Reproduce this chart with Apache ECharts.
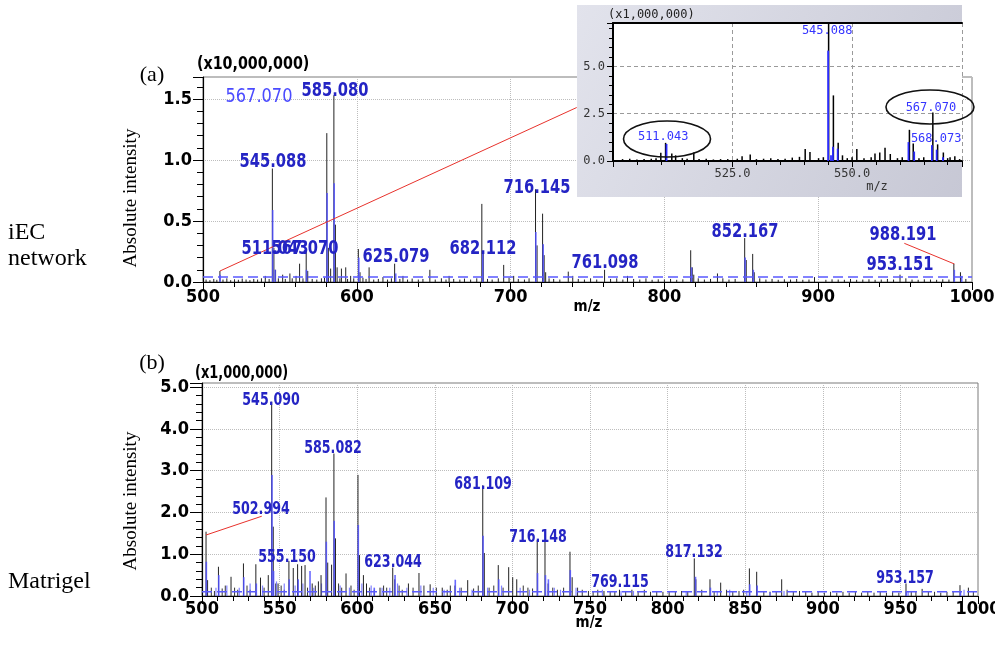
<!DOCTYPE html>
<html><head><meta charset="utf-8">
<script src="https://cdn.jsdelivr.net/npm/echarts@6/dist/echarts.min.js"></script>
<style>html,body{margin:0;padding:0;background:#fff}#c{width:995px;height:650px}</style>
</head><body><div id="c"></div>
<script>
// ================= DATA =================
// Panel (a) iEC network, intensity in x10,000,000
const aBlack = [[511.0,0.09],[540.5,0.05],[545.1,0.93],[546.1,0.28],[547.2,0.10],[551.8,0.06],[556.5,0.07],[560.5,0.05],[562.8,0.15],[567.1,0.26],[568.1,0.09],[580.5,1.22],[581.5,0.28],[583.0,0.11],[585.1,1.53],[586.1,0.47],[587.2,0.12],[590.0,0.11],[592.8,0.12],[596.0,0.05],[601.0,0.27],[602.1,0.08],[608.0,0.12],[617.0,0.04],[624.6,0.15],[630.0,0.05],[647.5,0.10],[660.0,0.05],[681.3,0.64],[682.2,0.24],[695.5,0.14],[702.0,0.05],[716.2,0.76],[717.2,0.30],[720.8,0.56],[721.8,0.22],[722.8,0.08],[737.5,0.085],[740.4,0.05],[761.1,0.10],[776.0,0.05],[817.1,0.26],[818.1,0.12],[819.1,0.06],[834.5,0.07],[852.2,0.36],[853.2,0.18],[857.4,0.23],[858.4,0.08],[897.6,0.04],[953.2,0.06],[988.2,0.15],[992.5,0.08]];
const aBlue = [[511.1,0.06],[545.3,0.59],[546.9,0.10],[567.3,0.10],[580.7,0.73],[585.3,0.81],[601.3,0.20],[625.3,0.07],[681.9,0.24],[716.4,0.41],[721.2,0.31],[817.6,0.12],[852.5,0.20],[857.8,0.10],[988.5,0.10],[993.3,0.05]];
const aNoise = [[502,0.02],[504.5,0.015],[507,0.025],[509,0.018],[513,0.02],[515.5,0.03],[518,0.015],[520.5,0.022],[523,0.018],[525.5,0.028],[528,0.02],[530.5,0.015],[533,0.025],[535.5,0.02],[538,0.03],[543,0.025],[549,0.03],[553.5,0.025],[558,0.03],[565,0.03],[571,0.025],[574,0.02],[577,0.03],[579,0.035],[589,0.03],[594,0.025],[598,0.03],[604,0.035],[606,0.025],[611,0.02],[614,0.025],[620,0.02],[622.5,0.03],[628,0.025],[633,0.02],[636,0.028],[640,0.02],[643,0.025],[651,0.02],[655,0.03],[658,0.02],[663,0.025],[667,0.02],[670,0.028],[674,0.02],[678,0.03],[685,0.025],[688,0.02],[692,0.03],[699,0.035],[705,0.025],[709,0.02],[712,0.03],[725,0.03],[728,0.025],[732,0.02],[744,0.025],[748,0.02],[752,0.03],[756,0.02],[765,0.025],[769,0.03],[773,0.02],[780,0.025],[784,0.02],[788,0.03],[792,0.018],[796,0.022],[800,0.02],[804,0.025],[808,0.018],[812,0.022],[822,0.03],[826,0.02],[830,0.025],[838,0.03],[842,0.02],[846,0.025],[862,0.03],[866,0.02],[870,0.025],[874,0.018],[878,0.022],[882,0.02],[886,0.025],[890,0.018],[894,0.02],[905,0.018],[909,0.022],[913,0.02],[917,0.018],[921,0.025],[925,0.018],[929,0.02],[933,0.022],[937,0.018],[941,0.02],[945,0.025],[949,0.02],[957,0.03],[961,0.02],[965,0.018],[969,0.022],[973,0.02],[977,0.018],[981,0.022],[985,0.02],[996,0.025]];
const aThreshold = 0.04;
const aLabelText = ['567.070','585.080','545.088','511.043','567.070','625.079','682.112','716.145','761.098','852.167','988.191','953.151'];
const aLeader1 = [[511.0,0.09],[743,1.43]];
const aLeader2 = [[956,0.317],[988.5,0.148]];

// Panel (b) Matrigel, intensity in x1,000,000
const bBlack = [[502.6,1.54],[503.6,0.38],[510.6,0.70],[518.7,0.46],[526.7,0.78],[534.7,0.76],[537.7,0.44],[542.7,0.50],[544.9,4.65],[545.9,1.66],[549.0,0.30],[556.0,0.84],[558.8,0.67],[561.6,0.76],[564.2,0.72],[566.4,0.74],[571.0,0.30],[575.0,0.35],[576.7,0.50],[579.9,2.36],[581.0,0.80],[583.5,0.75],[585.0,3.41],[586.0,1.38],[592.8,0.54],[600.5,2.90],[601.5,0.98],[604.0,0.50],[606.0,0.30],[614.7,0.20],[622.9,0.68],[624.2,0.40],[633.0,0.30],[639.8,0.55],[647.0,0.28],[654.8,0.20],[663.0,0.25],[671.2,0.38],[680.9,2.65],[681.9,1.03],[690.9,0.74],[697.6,0.69],[700.2,0.45],[702.8,0.40],[716.0,1.34],[721.0,1.33],[723.0,0.30],[737.1,1.06],[738.5,0.45],[759.0,0.12],[769.0,0.15],[777.0,0.15],[817.2,0.90],[818.2,0.40],[827.3,0.40],[834.2,0.32],[852.7,0.66],[857.4,0.58],[873.5,0.40],[953.6,0.30],[964.0,0.17],[988.4,0.26],[993.8,0.20]];
const bBlue = [[502.8,0.82],[510.8,0.50],[526.9,0.45],[535.0,0.30],[545.1,2.90],[546.1,0.60],[556.2,0.40],[562.0,0.40],[569.6,0.60],[580.1,1.30],[585.2,1.80],[600.7,1.70],[611.0,0.20],[624.4,0.50],[663.2,0.39],[681.1,1.44],[691.2,0.40],[716.2,0.55],[721.3,0.50],[723.2,0.40],[737.3,0.62],[818.0,0.46],[827.6,0.20],[852.9,0.28],[857.7,0.25],[953.8,0.12],[988.7,0.12]];
const bNoise = [[506,0.2],[508,0.12],[513,0.18],[515,0.25],[521,0.2],[523,0.15],[529,0.25],[531,0.15],[540,0.2],[547.5,0.3],[551,0.25],[553,0.15],[568,0.2],[573,0.25],[588,0.3],[590,0.2],[596,0.25],[598,0.15],[608,0.2],[611,0.15],[617,0.25],[619,0.2],[627,0.25],[629,0.15],[636,0.2],[643,0.25],[651,0.2],[658,0.15],[660,0.25],[667,0.2],[675,0.18],[678,0.25],[685,0.2],[688,0.25],[694,0.2],[707,0.25],[710,0.2],[713,0.18],[726,0.2],[729,0.15],[733,0.2],[742,0.2],[745,0.15],[749,0.12],[752,0.1],[755,0.15],[763,0.12],[766,0.1],[773,0.12],[781,0.1],[785,0.15],[789,0.1],[793,0.12],[797,0.1],[801,0.12],[805,0.1],[809,0.12],[813,0.1],[822,0.15],[830,0.12],[838,0.15],[842,0.1],[846,0.12],[849,0.15],[862,0.12],[866,0.1],[870,0.12],[877,0.15],[881,0.1],[885,0.12],[889,0.1],[893,0.08],[897,0.1],[901,0.08],[905,0.1],[909,0.08],[913,0.1],[917,0.08],[921,0.1],[925,0.08],[929,0.1],[933,0.08],[937,0.1],[941,0.08],[945,0.1],[949,0.08],[957,0.12],[960,0.1],[968,0.12],[972,0.1],[976,0.08],[980,0.1],[984,0.12],[997,0.1]];
const bBlueNoise = [[509,0.2],[516,0.25],[524,0.2],[531,0.3],[539,0.25],[548,0.35],[553,0.3],[560,0.25],[565,0.3],[572,0.2],[577,0.3],[589,0.25],[595,0.2],[603,0.3],[609,0.25],[616,0.2],[621,0.2],[626,0.3],[632,0.2],[641,0.25],[649,0.2],[656,0.15],[666,0.2],[674,0.15],[684,0.2],[693,0.25],[705,0.2],[711,0.15],[727,0.2],[731,0.15],[741,0.2],[758,0.15],[770,0.12],[778,0.12],[812,0.1],[832,0.12],[840,0.15],[851,0.12],[866,0.1],[875,0.12],[955,0.1],[991,0.15]];
const bThreshold = 0.1;
const bLabelText = ['545.090','585.082','502.994','555.150','623.044','681.109','716.148','769.115','817.132','953.157'];
const bLeader = [[502.6,1.46],[538.5,1.91]];

// Inset (zoom of panel a), intensity in x1,000,000
const iBlack = [[510.0,0.44],[511.0,0.96],[512.3,0.40],[513.1,0.30],[516.9,0.45],[527.0,0.25],[528.7,0.35],[540.2,0.63],[541.2,0.48],[545.1,7.3],[546.1,3.47],[547.1,0.97],[548.0,0.30],[551.0,0.63],[554.8,0.40],[555.8,0.45],[556.9,0.70],[558.0,0.37],[562.0,1.65],[562.8,0.93],[566.9,2.56],[567.9,0.88],[569.1,0.45],[570.5,0.20]];
const iBlue = [[511.2,0.90],[545.0,5.84],[545.6,0.30],[546.0,0.75],[547.0,0.65],[561.8,1.00],[563.0,0.50],[566.7,0.84],[567.7,0.60],[569.0,0.20]];
const iNoise = [[502,0.1],[503.5,0.12],[505,0.08],[506.5,0.1],[508,0.12],[509,0.15],[514.5,0.15],[515.5,0.12],[518,0.1],[519.5,0.12],[521,0.08],[522.5,0.1],[524,0.1],[526,0.12],[530,0.1],[531.5,0.12],[533,0.15],[534.5,0.1],[536,0.12],[537.5,0.18],[539,0.22],[543,0.15],[544,0.2],[549,0.15],[550,0.2],[552.5,0.15],[554,0.2],[559.5,0.15],[560.5,0.2],[564,0.15],[565,0.2],[570,0.15],[571.5,0.25],[572.5,0.1]];
const iLabelText = ['545.088','511.043','567.070','568.073'];

// ================= LAYOUT / STYLE (not data) =================
const aLabelPos = [[536.4,1.516],[585.8,1.566],[545.5,0.984],[546.8,0.27],[566.3,0.27],[625.5,0.205],[682.1,0.27],[717.2,0.77],[761.4,0.156],[852.4,0.41],[955.1,0.385],[953.2,0.14]];
const aLabelStyle = ['light','bold','bold','bold','bold','bold','bold','bold','bold','bold','bold','bold'];
const bLabelPos = [[544.5,4.69],[584.4,3.54],[538.0,2.08],[554.8,0.93],[623.1,0.81],[681.1,2.68],[716.5,1.41],[769.3,0.33],[817.0,1.05],[953.0,0.43]];
const iLabelPos = [[544.8,6.88],[510.5,1.27],[566.5,2.80],[567.6,1.16]];
const iEllipses = [[511.3,1.16,43.5,18],[566.3,2.86,44,17]];

const COND = '"DejaVu Sans Condensed","Liberation Sans Narrow",sans-serif';
const SERIF = '"Liberation Serif","DejaVu Serif",serif';
const MONO = '"DejaVu Sans Mono","Liberation Mono",monospace';
const LBL_BLUE = '#2424c4';

function stick(color, width) {
  return function (params, api) {
    const x = api.value(0), y = api.value(1);
    const p0 = api.coord([x, 0]), p1 = api.coord([x, y]);
    return {type: 'line', shape: {x1: p0[0], y1: p0[1], x2: p1[0], y2: p1[1]}, style: {stroke: color, lineWidth: width}};
  };
}
function stickSeries(data, xi, yi, color, width, z) {
  return {type: 'custom', xAxisIndex: xi, yAxisIndex: yi, data: data, encode: {x: 0, y: 1}, renderItem: stick(color, width), z: z || 2, silent: true};
}
function labelSeries(pos, texts, xi, yi, fontFn, colorFn, scaleFn, z) {
  return {type: 'custom', xAxisIndex: xi, yAxisIndex: yi, data: pos, encode: {x: 0, y: 1}, z: z || 5, silent: true,
    renderItem: function (params, api) {
      const p = api.coord([api.value(0), api.value(1)]);
      const i = params.dataIndex;
      return {type: 'text', x: p[0], y: p[1], scaleX: scaleFn(i), style: {text: texts[i], font: fontFn(i), fill: colorFn(i), align: 'center', verticalAlign: 'middle'}};
    }};
}
function lineSeries(data, xi, yi, color, width, type, z) {
  return {type: 'line', xAxisIndex: xi, yAxisIndex: yi, data: data, symbol: 'none', silent: true, z: z || 3,
    lineStyle: {color: color, width: width, type: type || 'solid'}};
}

const mainXAxis = (gi, interval, margin) => ({
  type: 'value', gridIndex: gi, min: 500, max: 1000, interval: interval,
  axisLine: {lineStyle: {color: '#000', width: 1.2}},
  axisTick: {show: true, length: 8, lineStyle: {color: '#000'}},
  minorTick: {show: true, splitNumber: 5, length: 5, lineStyle: {color: '#000'}},
  axisLabel: {color: '#000', fontSize: 18, fontWeight: 'bold', fontFamily: COND, margin: margin, formatter: v => String(v)},
  splitLine: {show: true, lineStyle: {color: '#bdbdbd', type: 'dotted'}}
});
const mainYAxis = (gi, max, interval, tickLen, margin) => ({
  type: 'value', gridIndex: gi, min: 0, max: max, interval: interval,
  axisLine: {show: true, lineStyle: {color: '#000', width: 1.2}},
  axisTick: {show: true, length: tickLen, lineStyle: {color: '#000'}},
  minorTick: {show: true, splitNumber: 5, length: 6, lineStyle: {color: '#000'}},
  axisLabel: {color: '#000', fontSize: 18, fontWeight: 'bold', fontFamily: COND, margin: margin, showMaxLabel: false, formatter: v => v.toFixed(1)},
  splitLine: {show: true, lineStyle: {color: '#bdbdbd', type: 'dotted'}}
});

const chart = echarts.init(document.getElementById('c'), null, {renderer: 'canvas'});
const option = {
  animation: false,
  backgroundColor: '#fff',
  grid: [
    {left: 203, top: 77, width: 769, height: 205, containLabel: false, outerBoundsMode: 'none', show: true, borderColor: '#7a7a7a', borderWidth: 1, backgroundColor: 'transparent'},
    {left: 202, top: 383, width: 776, height: 213, containLabel: false, outerBoundsMode: 'none', show: true, borderColor: '#7a7a7a', borderWidth: 1, backgroundColor: 'transparent'},
    {left: 613, top: 23, width: 349, height: 138, containLabel: false, outerBoundsMode: 'none', show: true, backgroundColor: '#fff', borderWidth: 0, z: 11}
  ],
  xAxis: [
    mainXAxis(0, 100, 6),
    mainXAxis(1, 50, 4),
    {type: 'value', gridIndex: 2, min: 500, max: 573, interval: 25, z: 12,
      axisLine: {lineStyle: {color: '#000', width: 2}},
      axisTick: {show: true, length: 6, lineStyle: {color: '#000'}},
      minorTick: {show: true, splitNumber: 5, length: 4, lineStyle: {color: '#000'}},
      axisLabel: {color: '#333', fontSize: 12, fontFamily: MONO, margin: 7, showMinLabel: false, showMaxLabel: false, formatter: v => v.toFixed(1)},
      splitLine: {show: true, lineStyle: {color: '#9a9a9a', type: [4, 3]}}},
    {type: 'value', gridIndex: 2, position: 'top', min: 500, max: 573, z: 12,
      axisLine: {lineStyle: {color: '#000', width: 2}}, axisTick: {show: false}, axisLabel: {show: false}, splitLine: {show: false}}
  ],
  yAxis: [
    mainYAxis(0, 1.68, 0.5, 10, 11),
    mainYAxis(1, 5.1, 1, 12, 13),
    {type: 'value', gridIndex: 2, min: 0, max: 7.3, interval: 2.5, z: 12,
      axisLine: {show: true, lineStyle: {color: '#000', width: 2}},
      axisTick: {show: true, length: 6, lineStyle: {color: '#000'}},
      minorTick: {show: true, splitNumber: 5, length: 4, lineStyle: {color: '#000'}},
      axisLabel: {color: '#333', fontSize: 12, fontFamily: MONO, margin: 8, showMaxLabel: false, formatter: v => v.toFixed(1)},
      splitLine: {show: true, lineStyle: {color: '#9a9a9a', type: [4, 3]}}}
  ],
  series: [
    // panel a
    stickSeries(aNoise, 0, 0, '#222', 1),
    stickSeries(aBlack, 0, 0, '#222', 1),
    stickSeries(aBlue, 0, 0, 'rgba(80,80,255,0.85)', 1.6),
    lineSeries([[500, aThreshold], [1000, aThreshold]], 0, 0, '#5a5aff', 1.5, [10, 5]),
    lineSeries(aLeader1, 0, 0, '#e8322c', 1),
    lineSeries(aLeader2, 0, 0, '#e8322c', 1),
    labelSeries(aLabelPos, aLabelText, 0, 0,
      i => (aLabelStyle[i] === 'light' ? '20px ' : 'bold 19px ') + COND,
      i => aLabelStyle[i] === 'light' ? '#4b4bff' : LBL_BLUE,
      i => aLabelStyle[i] === 'light' ? 0.9 : 0.86, 6),
    // panel b
    stickSeries(bNoise, 1, 1, '#333', 1),
    stickSeries(bBlueNoise, 1, 1, 'rgba(90,90,255,0.75)', 1.2),
    stickSeries(bBlack, 1, 1, '#222', 1),
    stickSeries(bBlue, 1, 1, 'rgba(80,80,255,0.85)', 1.6),
    lineSeries([[500, bThreshold], [1000, bThreshold]], 1, 1, '#5a5aff', 1.5, [10, 5]),
    lineSeries(bLeader, 1, 1, '#e8322c', 1),
    labelSeries(bLabelPos, bLabelText, 1, 1, i => 'bold 18px ' + COND, i => LBL_BLUE, i => 0.78, 6),
    // inset
    stickSeries(iNoise, 2, 2, '#000', 1.5, 13),
    stickSeries(iBlack, 2, 2, '#000', 1.5, 13),
    stickSeries(iBlue, 2, 2, '#2b2bff', 1.8, 13),
    labelSeries(iLabelPos, iLabelText, 2, 2, i => '12px ' + MONO, i => '#3535ff', i => 1, 14)
  ],
  graphic: [
    {type: 'rect', z: 10, silent: true, shape: {x: 577, y: 5, width: 385, height: 192},
      style: {fill: new echarts.graphic.LinearGradient(0, 0, 1, 1, [{offset: 0, color: '#e2e3ec'}, {offset: 1, color: '#c7c8d5'}])}},
    {type: 'text', z: 14, silent: true, x: 608, y: 15, style: {text: '(x1,000,000)', font: '12px ' + MONO, fill: '#222', verticalAlign: 'middle'}},
    {type: 'text', z: 14, silent: true, x: 877, y: 187, style: {text: 'm/z', font: '12px ' + MONO, fill: '#333', align: 'center', verticalAlign: 'middle'}},
    {type: 'text', silent: true, x: 197, y: 64, scaleX: 0.88, style: {text: '(x10,000,000)', font: 'bold 18px ' + COND, fill: '#000', verticalAlign: 'middle'}},
    {type: 'text', silent: true, x: 195, y: 373, scaleX: 0.8, style: {text: '(x1,000,000)', font: 'bold 18px ' + COND, fill: '#000', verticalAlign: 'middle'}},
    {type: 'text', silent: true, x: 587, y: 307, style: {text: 'm/z', font: 'bold 15px ' + COND, fill: '#000', align: 'center', verticalAlign: 'middle'}},
    {type: 'text', silent: true, x: 589, y: 623, style: {text: 'm/z', font: 'bold 15px ' + COND, fill: '#000', align: 'center', verticalAlign: 'middle'}},
    {type: 'text', silent: true, x: 152, y: 75, style: {text: '(a)', font: '22px ' + SERIF, fill: '#000', align: 'center', verticalAlign: 'middle'}},
    {type: 'text', silent: true, x: 152, y: 363, style: {text: '(b)', font: '22px ' + SERIF, fill: '#000', align: 'center', verticalAlign: 'middle'}},
    {type: 'text', silent: true, x: 8, y: 233, style: {text: 'iEC', font: '24px ' + SERIF, fill: '#000', verticalAlign: 'middle'}},
    {type: 'text', silent: true, x: 8, y: 259, style: {text: 'network', font: '24px ' + SERIF, fill: '#000', verticalAlign: 'middle'}},
    {type: 'text', silent: true, x: 8, y: 582, style: {text: 'Matrigel', font: '24px ' + SERIF, fill: '#000', verticalAlign: 'middle'}},
    {type: 'text', silent: true, x: 131, y: 198, rotation: Math.PI / 2, style: {text: 'Absolute intensity', font: '19px ' + SERIF, fill: '#000', align: 'center', verticalAlign: 'middle'}},
    {type: 'text', silent: true, x: 131, y: 501, rotation: Math.PI / 2, style: {text: 'Absolute intensity', font: '19px ' + SERIF, fill: '#000', align: 'center', verticalAlign: 'middle'}}
  ]
};
chart.setOption(option);

// ellipses around inset labels, placed through the inset's own scales
const ellipseGraphics = iEllipses.map(e => {
  const p = chart.convertToPixel({gridIndex: 2}, [e[0], e[1]]);
  return {type: 'ellipse', z: 15, silent: true, shape: {cx: p[0], cy: p[1], rx: e[2], ry: e[3]}, style: {fill: 'none', stroke: '#111', lineWidth: 1.6}};
});
chart.setOption({graphic: option.graphic.concat(ellipseGraphics)}, {replaceMerge: ['graphic']});
</script>
</body></html>
